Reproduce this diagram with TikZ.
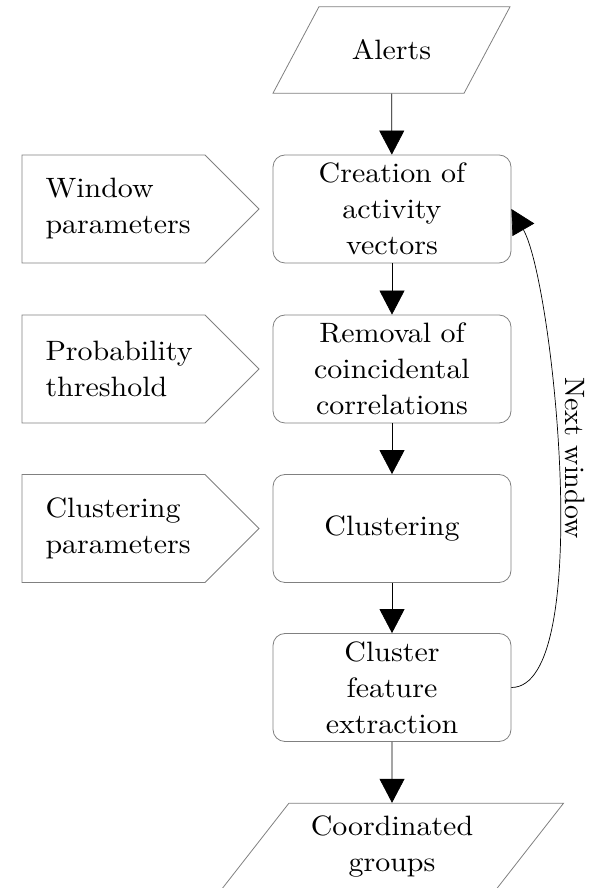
\documentclass[tikz,border=0pt]{standalone}
\usepackage{fontspec}
\setmainfont{lmroman10-regular.otf}[FakeStretch=1.07]
\newfontfamily\sidefont{lmroman10-regular.otf}
\usetikzlibrary{positioning,shapes.geometric,shapes.symbols,arrows.meta}

\begin{document}
\begin{tikzpicture}[x=1pt,y=1pt,
    txt/.style={font=\fontsize{28}{36}\selectfont},
    io/.style={txt,draw=gray,line width=.8pt,trapezium,trapezium stretches body,align=center,inner xsep=2pt},
    proc/.style={txt,draw=gray,line width=.8pt,rounded corners=12pt,minimum width=238pt,minimum height=108pt,text width=220pt,align=center,inner sep=0pt},
    param/.style={txt,draw=gray,line width=.8pt,signal,signal to=east,signal pointer angle=90,minimum height=108pt,minimum width=237pt,text width=136pt,align=left},
    flow/.style={-{Triangle[length=24pt,width=25pt]},draw=black,line width=.7pt}]
  \useasboundingbox (0,0) rectangle (603,888);
  % main column
  \node[io,trapezium left angle=62,trapezium right angle=118,minimum width=237pt,inner ysep=33pt] (alerts) at (391.5,838) {Alerts};
  \node[proc] (vec) at (392,679) {Creation of\\activity\\vectors};
  \node[proc] (rem) at (392,519) {Removal of\\coincidental\\correlations};
  \node[proc] (clu) at (392,359.5) {Clustering};
  \node[proc] (feat) at (392,200.5) {Cluster\\feature\\extraction};
  \node[io,trapezium left angle=52,trapezium right angle=128,minimum width=343pt,inner ysep=13pt] (groups) at (392,41) {Coordinated\\groups};
  % parameters
  \node[param,left=13pt of vec] (win) {Window\\parameters};
  \node[param,left=13pt of rem] (prob) {Probability\\threshold};
  \node[param,left=13pt of clu] (cpar) {Clustering\\parameters};
  \draw[flow] (alerts) -- (vec);
  \draw[flow] (vec) -- (rem);
  \draw[flow] (rem) -- (clu);
  \draw[flow] (clu) -- (feat);
  \draw[flow] (feat) -- (groups);
  % loop back
  \node[font=\sidefont\fontsize{28}{36}\selectfont,rotate=-90] (nxt) at (575,430) {Next window};
  \draw[flow] (feat.east) to[out=0,in=-60,looseness=.45] (vec.east);
\end{tikzpicture}
\end{document}
